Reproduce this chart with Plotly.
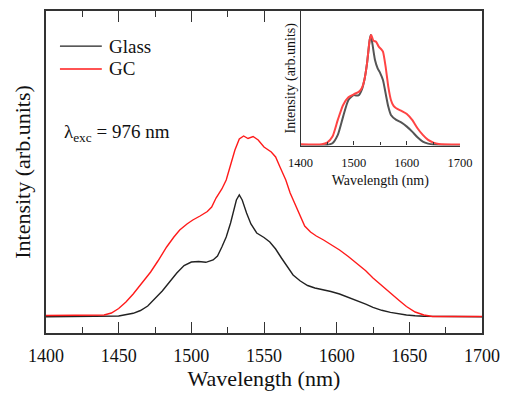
import plotly.graph_objects as go

# ---- main spectra (arb. units) ----
glass_wl = [1400, 1440, 1450, 1460, 1465, 1470, 1475, 1480, 1485, 1490, 1495, 1500, 1505, 1510, 1515,
            1518, 1521, 1524, 1527, 1529, 1531, 1533, 1535, 1538, 1541, 1545, 1550, 1554, 1558, 1562,
            1566, 1570, 1575, 1580, 1585, 1590, 1596, 1602, 1608, 1614, 1620, 1625, 1631, 1637, 1643,
            1648, 1654, 1660, 1700]
glass_int = [16.3, 16.4, 17, 19.7, 22.5, 27, 34, 42, 51, 60, 67.5, 71, 71.5, 70.7, 73,
             77, 86, 96, 110, 123, 133, 138, 133, 120, 109, 100, 95.5, 91, 84, 75,
             66, 58, 52, 47.5, 45, 43.7, 41.5, 39, 35.8, 32.3, 28.8, 25.7, 22.7, 20.6, 19,
             18, 17.2, 16.7, 16.3]

gc_wl = [1400, 1420, 1440, 1445, 1450, 1455, 1460, 1466, 1472, 1477, 1483, 1488, 1492, 1497, 1501,
         1506, 1511, 1514, 1517, 1521, 1524, 1527, 1530, 1533, 1536, 1539, 1542.5, 1546, 1550, 1555,
         1558, 1561, 1565, 1568, 1572, 1575, 1578, 1582, 1586, 1591, 1596, 1602, 1608, 1614, 1620,
         1625, 1631, 1637, 1643, 1648, 1654, 1660, 1666, 1700]
gc_int = [17.5, 17.5, 18, 20, 24.5, 31, 39, 50, 61, 72, 86, 96, 103, 109, 113,
          117, 121.5, 126, 135, 144, 153, 168, 183, 194, 197, 194.5, 196.5, 193, 186, 181,
          176, 166, 153, 140, 127, 116, 107, 101, 97, 93, 88.5, 83, 76.5, 69.7, 62.2,
          55, 47.2, 39.7, 32.5, 26.5, 21, 18, 16.5, 16.5]

# ---- inset spectra (normalised, arb. units) ----
in_glass_wl = [1400, 1450, 1460, 1470, 1480, 1490, 1500, 1505, 1510, 1515, 1520, 1525, 1530, 1532, 1535,
               1540, 1545, 1550, 1555, 1560, 1565, 1570, 1580, 1590, 1600, 1610, 1620, 1630, 1640, 1650, 1700]
in_glass_int = [2, 2, 7, 32, 87, 137, 152, 150, 152, 167, 197, 247, 317, 332, 307,
                257, 232, 217, 197, 157, 117, 92, 77, 69, 57, 42, 25, 12, 6, 3, 1]

in_gc_wl = [1400, 1440, 1450, 1460, 1470, 1480, 1490, 1500, 1510, 1515, 1520, 1525, 1530, 1533, 1537,
            1542, 1547, 1552, 1555, 1560, 1565, 1570, 1575, 1580, 1590, 1600, 1610, 1620, 1630, 1640,
            1650, 1660, 1700]
in_gc_int = [4, 4, 9, 27, 77, 122, 145, 154, 162, 172, 197, 247, 317, 332, 315,
             312, 297, 289, 282, 237, 177, 137, 119, 112, 104, 95, 77, 52, 32, 17,
             9, 5, 3]

series_names = ["Glass", "GC"]
x_ticks = [1400, 1450, 1500, 1550, 1600, 1650, 1700]
inset_ticks = [1400, 1500, 1600, 1700]

SERIF = "Liberation Serif, Times New Roman, serif"
BLACK = "#222222"
RED = "#ff1a1a"
TXT = "#111111"
AX = "#333333"

fig = go.Figure()
fig.add_trace(go.Scatter(x=glass_wl, y=glass_int, mode="lines", name=series_names[0], showlegend=False,
                         line=dict(color=BLACK, width=1.4, shape="linear")))
fig.add_trace(go.Scatter(x=gc_wl, y=gc_int, mode="lines", name=series_names[1], showlegend=False,
                         line=dict(color=RED, width=1.4, shape="linear")))
fig.add_trace(go.Scatter(x=in_glass_wl, y=in_glass_int, mode="lines", showlegend=False, name="Glass (inset)",
                         line=dict(color="#555555", width=2, shape="spline", smoothing=0.6),
                         xaxis="x2", yaxis="y2"))
fig.add_trace(go.Scatter(x=in_gc_wl, y=in_gc_int, mode="lines", showlegend=False, name="GC (inset)",
                         line=dict(color="#ff4444", width=2, shape="spline", smoothing=0.6),
                         xaxis="x2", yaxis="y2"))

# hand-made legend (longer swatches and tighter spacing than plotly's legend)
legend_rows = [(series_names[0], BLACK, 0.891), (series_names[1], RED, 0.820)]
shapes = []
annotations = []
for name, col, yy in legend_rows:
    shapes.append(dict(type="line", xref="paper", yref="paper", x0=0.032, x1=0.128, y0=yy, y1=yy,
                       line=dict(color=col, width=1.4)))
    annotations.append(dict(text=name, xref="paper", yref="paper", x=0.141, y=yy, xanchor="left",
                            yanchor="middle", showarrow=False, font=dict(size=19, family=SERIF, color=TXT)))
annotations.append(dict(text="λ<sub>exc</sub> = 976 nm", xref="paper", yref="paper",
                        x=0.037, y=0.621, xanchor="left", yanchor="middle", showarrow=False,
                        font=dict(size=19, family=SERIF, color=TXT)))

fig.update_layout(
    width=506, height=394,
    margin=dict(l=46, r=24, t=11, b=61, autoexpand=False),
    paper_bgcolor="white", plot_bgcolor="white",
    font=dict(family=SERIF, color=TXT),
    showlegend=False,
    xaxis=dict(range=[1400, 1700], tickvals=x_ticks, ticks="inside", ticklen=11, tickwidth=1.3,
               tickcolor=AX, showline=True, linecolor=AX, linewidth=1.5, mirror="ticks",
               showgrid=False, zeroline=False, tickfont=dict(size=18, family=SERIF, color=TXT),
               automargin=False, ticklabelstandoff=6,
               minor=dict(dtick=25, ticks="inside", ticklen=6, tickwidth=1.3, tickcolor=AX),
               title=dict(text="Wavelength (nm)", font=dict(size=22, family=SERIF, color=TXT), standoff=2)),
    yaxis=dict(range=[0, 322], showticklabels=False, ticks="", showline=True, linecolor=AX,
               linewidth=1.5, mirror=True, showgrid=False, zeroline=False, automargin=False,
               title=dict(text="Intensity (arb.units)", font=dict(size=22, family=SERIF, color=TXT), standoff=8)),
    xaxis2=dict(domain=[0.584, 0.9495], anchor="y2", range=[1400, 1700], tickvals=inset_ticks,
                ticks="inside", ticklen=4, tickwidth=1, tickcolor=AX, automargin=False,
                ticklabelstandoff=5,
                minor=dict(dtick=50, ticks="inside", ticklen=3, tickwidth=1, tickcolor=AX),
                showline=True, linecolor=AX, linewidth=1.2, showgrid=False, zeroline=False,
                tickfont=dict(size=12.5, family=SERIF, color=TXT),
                title=dict(text="Wavelength (nm)", font=dict(size=14, family=SERIF, color=TXT), standoff=6)),
    yaxis2=dict(domain=[0.582, 1.0], anchor="x2", range=[0, 404], showticklabels=False, ticks="",
                showline=True, linecolor=AX, linewidth=1.2, showgrid=False, zeroline=False,
                automargin=False,
                title=dict(text="Intensity (arb.units)", font=dict(size=14, family=SERIF, color=TXT), standoff=0)),
    shapes=shapes,
    annotations=annotations,
)

fig.write_html("out.html", config={"displayModeBar": False},
               post_script="document.body.style.margin='0';document.body.style.overflow='hidden';")
